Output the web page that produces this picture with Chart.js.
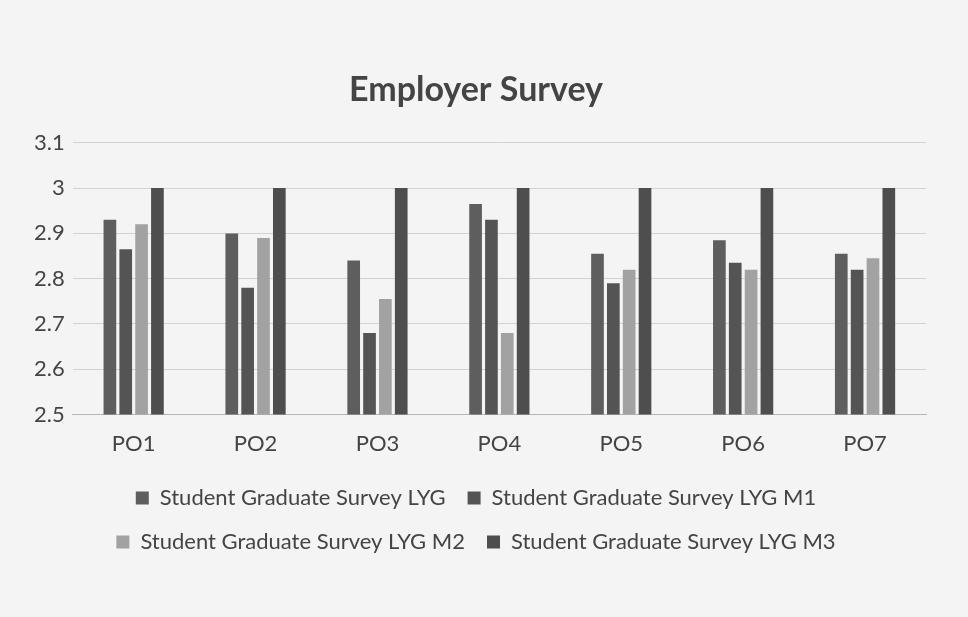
<!DOCTYPE html>
<html>
<head>
<meta charset="utf-8">
<script src="https://cdn.jsdelivr.net/npm/chart.js@4.4.0/dist/chart.umd.min.js"></script>
<style>
  html, body { margin: 0; padding: 0; background: #f4f4f4; }
  #wrap { width: 968px; height: 617px; position: relative; }
</style>
</head>
<body>
<div id="wrap"><canvas id="survey-chart"></canvas></div>
<script>
// Employer Survey - grouped bars

const categories = ["PO1", "PO2", "PO3", "PO4", "PO5", "PO6", "PO7"];

const lyg   = [2.93, 2.90, 2.84, 2.965, 2.855, 2.885, 2.855];
const lygM1 = [2.865, 2.78, 2.68, 2.93, 2.79, 2.835, 2.82];
const lygM2 = [2.92, 2.89, 2.755, 2.68, 2.82, 2.82, 2.845];
const lygM3 = [3.00, 3.00, 3.00, 3.00, 3.00, 3.00, 3.00];

const seriesNames = [
    "Student Graduate Survey LYG",
    "Student Graduate Survey LYG M1",
    "Student Graduate Survey LYG M2",
    "Student Graduate Survey LYG M3"
];

const surveyCanvas = document.getElementById("survey-chart");

let surveyData = {
    labels: categories,
    datasets: [
        { label: seriesNames[0], data: lyg,   backgroundColor: '#5e5e5e' },
        { label: seriesNames[1], data: lygM1, backgroundColor: '#545454' },
        { label: seriesNames[2], data: lygM2, backgroundColor: '#a2a2a2' },
        { label: seriesNames[3], data: lygM3, backgroundColor: '#4e4e4e' }
    ]
};

let surveyOptions = {
    responsive: true,
    maintainAspectRatio: false,
    animation: { duration: 0 },
    layout: { padding: { left: 26, right: 42, top: 70, bottom: 54 } },
    datasets: {
        bar: { categoryPercentage: 0.52, barPercentage: 0.8 }
    },
    scales: {
        x: {
            grid: { display: false },
            border: { color: '#b5b5b5' },
            ticks: { color: '#444', font: { family: 'Lato', size: 22 }, padding: 8 }
        },
        y: {
            min: 2.5,
            max: 3.1,
            ticks: {
                stepSize: 0.1,
                color: '#444',
                padding: 8,
                font: { family: 'Lato', size: 22 },
                callback: v => Math.round(v * 10) / 10
            },
            grid: { color: '#d2d2d2', drawTicks: false },
            border: { display: false }
        }
    },
    plugins: {
        title: {
            display: true,
            text: 'Employer Survey',
            color: '#444',
            font: { family: 'Lato', size: 34, weight: 'bold' },
            padding: { top: 0, bottom: 32 }
        },
        legend: {
            position: 'bottom',
            labels: {
                color: '#444',
                boxWidth: 13,
                boxHeight: 13,
                padding: 22,
                font: { family: 'Lato', size: 22 }
            }
        },
        tooltip: { enabled: false }
    }
};

let surveyChart = new Chart(surveyCanvas, {
    type: 'bar',
    data: surveyData,
    options: surveyOptions
});
</script>
</body>
</html>
